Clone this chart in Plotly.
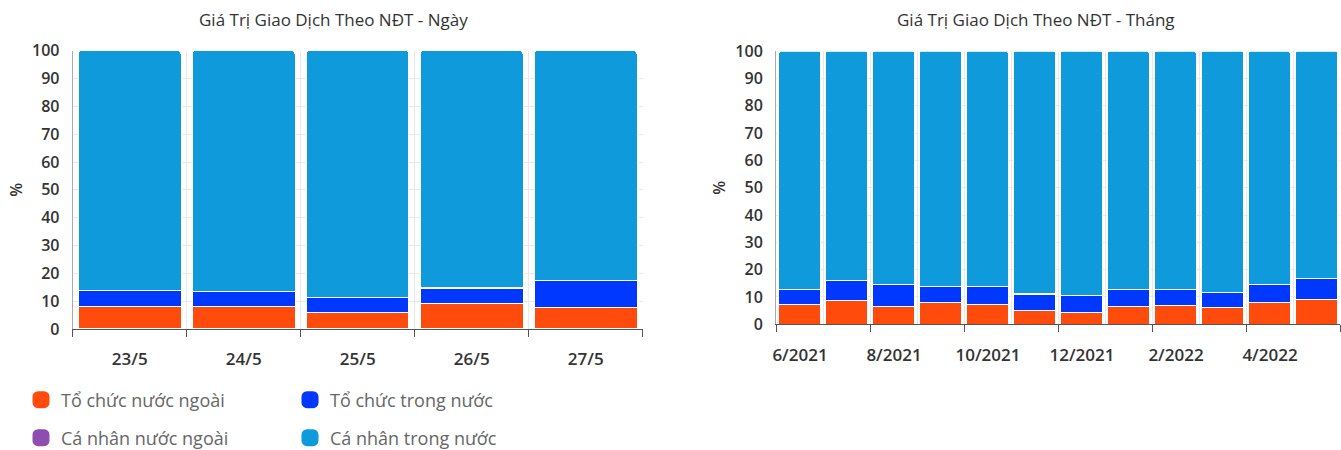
import plotly.graph_objects as go

# ---- data -------------------------------------------------------------
days = ["23/5", "24/5", "25/5", "26/5", "27/5"]
day_to_chuc_nuoc_ngoai = [8.0, 8.0, 5.9, 9.2, 7.7]
day_to_chuc_trong_nuoc = [5.7, 5.3, 5.4, 5.5, 9.7]
day_ca_nhan_nuoc_ngoai = [0.1, 0.1, 0.1, 0.1, 0.1]
day_ca_nhan_trong_nuoc = [86.2, 86.6, 88.6, 85.2, 82.5]

months = ["6/2021", "7/2021", "8/2021", "9/2021", "10/2021", "11/2021",
          "12/2021", "1/2022", "2/2022", "3/2022", "4/2022", "5/2022"]
mon_to_chuc_nuoc_ngoai = [7.3, 8.6, 6.4, 7.9, 7.1, 5.1, 4.5, 6.7, 7.0, 6.2, 7.9, 9.1]
mon_to_chuc_trong_nuoc = [5.4, 7.5, 8.1, 5.9, 6.7, 5.9, 5.9, 6.1, 5.7, 5.4, 6.6, 7.6]
mon_ca_nhan_nuoc_ngoai = [0.1, 0.1, 0.1, 0.1, 0.1, 0.1, 0.1, 0.1, 0.1, 0.1, 0.1, 0.1]
mon_ca_nhan_trong_nuoc = [87.2, 83.8, 85.4, 86.1, 86.1, 88.9, 89.5, 87.1, 87.2, 88.3, 85.4, 83.2]

series_names = ["Tổ chức nước ngoài", "Tổ chức trong nước",
                "Cá nhân nước ngoài", "Cá nhân trong nước"]
series_colors = ["#FF4C0D", "#0038FF", "#8E4DB0", "#0E9ADB"]
series_legend = ["legend", "legend", "legend2", "legend2"]

title_left = "Giá Trị Giao Dịch Theo NĐT - Ngày"
title_right = "Giá Trị Giao Dịch Theo NĐT - Tháng"

# ---- layout constants -------------------------------------------------
W, H = 1341, 450
FONT = "Open Sans"
TICK_COLOR = "#333333"
GRID = "#e9e9e9"

left_x = [72.7 / W, 642.7 / W]
left_y = [1 - 329 / H, 1 - 50.7 / H]
right_x = [776 / W, 1340 / W]
right_y = [1 - 324.3 / H, 1 - 51.2 / H]

fig = go.Figure()

day_x = list(range(len(days)))
mon_x = list(range(len(months)))

day_values = [day_to_chuc_nuoc_ngoai, day_to_chuc_trong_nuoc,
              day_ca_nhan_nuoc_ngoai, day_ca_nhan_trong_nuoc]
mon_values = [mon_to_chuc_nuoc_ngoai, mon_to_chuc_trong_nuoc,
              mon_ca_nhan_nuoc_ngoai, mon_ca_nhan_trong_nuoc]

for name, color, vals in zip(series_names, series_colors, day_values):
    fig.add_trace(go.Bar(
        x=day_x, y=vals, name=name, legendgroup=name,
        marker=dict(color=color, line=dict(color="white", width=1)),
        xaxis="x", yaxis="y", showlegend=False,
    ))

for name, color, vals in zip(series_names, series_colors, mon_values):
    fig.add_trace(go.Bar(
        x=mon_x, y=vals, name=name, legendgroup=name,
        marker=dict(color=color, line=dict(color="white", width=1)),
        xaxis="x2", yaxis="y2", showlegend=False,
    ))

# legend keys: empty bar traces with a thick same-colour outline for a larger swatch
for name, color, lg in zip(series_names, series_colors, series_legend):
    fig.add_trace(go.Bar(
        x=[None], y=[None], name=name, legendgroup=name, legend=lg,
        marker=dict(color=color, line=dict(color=color, width=5)),
        xaxis="x", yaxis="y", showlegend=True, hoverinfo="skip",
    ))

yaxis_common = dict(
    range=[0, 100], dtick=10, tick0=0, showgrid=True, gridcolor=GRID,
    showline=True, linecolor="#aaaaaa", linewidth=1, ticks="",
    ticklabelstandoff=9, zeroline=False,
    tickfont=dict(family=FONT, size=16, color=TICK_COLOR, weight=600),
    title=dict(text="%", font=dict(family=FONT, size=16, color=TICK_COLOR, weight=600),
               standoff=5),
)

day_bounds = [i - 0.5 for i in range(len(days) + 1)]
mon_bounds = [i - 0.5 for i in range(len(months) + 1)]
mon_label_bounds = mon_bounds[0::2]
mon_cat_px = (right_x[1] - right_x[0]) * W / len(months)
mon_labels = months[0::2] + [""] * (len(mon_label_bounds) - len(months[0::2]))

legend_common = dict(
    orientation="h", x=21 / W, xanchor="left", yanchor="middle",
    entrywidth=224, entrywidthmode="pixels", traceorder="normal",
    font=dict(family=FONT, size=18, color="#666666"),
    bgcolor="rgba(0,0,0,0)",
)

fig.update_layout(
    width=W, height=H,
    margin=dict(l=0, r=0, t=0, b=0, autoexpand=False),
    paper_bgcolor="white", plot_bgcolor="white",
    barmode="stack", bargap=0.1, barcornerradius=3,
    font=dict(family=FONT),
    xaxis=dict(
        domain=left_x, anchor="y", range=[-0.5, len(days) - 0.5],
        tickmode="array", tickvals=day_x, ticktext=days, ticks="",
        ticklabelstandoff=15, showgrid=False, zeroline=False,
        showline=True, linecolor="#555555", linewidth=1,
        tickfont=dict(family=FONT, size=17, color=TICK_COLOR, weight=600),
        minor=dict(tickmode="array", tickvals=day_bounds, ticks="outside",
                   ticklen=7, tickcolor="#555555", tickwidth=1,
                   showgrid=True, gridcolor=GRID),
    ),
    yaxis=dict(domain=left_y, anchor="x", **yaxis_common),
    xaxis2=dict(
        domain=right_x, anchor="y2", range=[-0.5, len(months) - 0.5],
        tickmode="array", tickvals=mon_label_bounds, ticktext=mon_labels,
        ticks="outside", ticklen=7, tickcolor="#555555", tickwidth=1,
        ticklabelshift=int(round(mon_cat_px / 2)), ticklabelstandoff=8,
        showgrid=True, gridcolor=GRID, zeroline=False,
        showline=True, linecolor="#555555", linewidth=1,
        tickfont=dict(family=FONT, size=17, color=TICK_COLOR, weight=600),
        minor=dict(tickmode="array", tickvals=mon_bounds, ticks="",
                   showgrid=True, gridcolor=GRID),
    ),
    yaxis2=dict(domain=right_y, anchor="x2", **yaxis_common),
    legend=dict(y=1 - 400 / H, **legend_common),
    legend2=dict(y=1 - 438 / H, **legend_common),
    annotations=[
        dict(text=title_left, x=333 / W, y=1 - 19 / H, xref="paper", yref="paper",
             showarrow=False, xanchor="center", yanchor="middle",
             font=dict(family=FONT, size=17, color="#333333")),
        dict(text=title_right, x=1036 / W, y=1 - 19 / H, xref="paper", yref="paper",
             showarrow=False, xanchor="center", yanchor="middle",
             font=dict(family=FONT, size=17, color="#333333")),
    ],
)

fig.write_html("out.html")
